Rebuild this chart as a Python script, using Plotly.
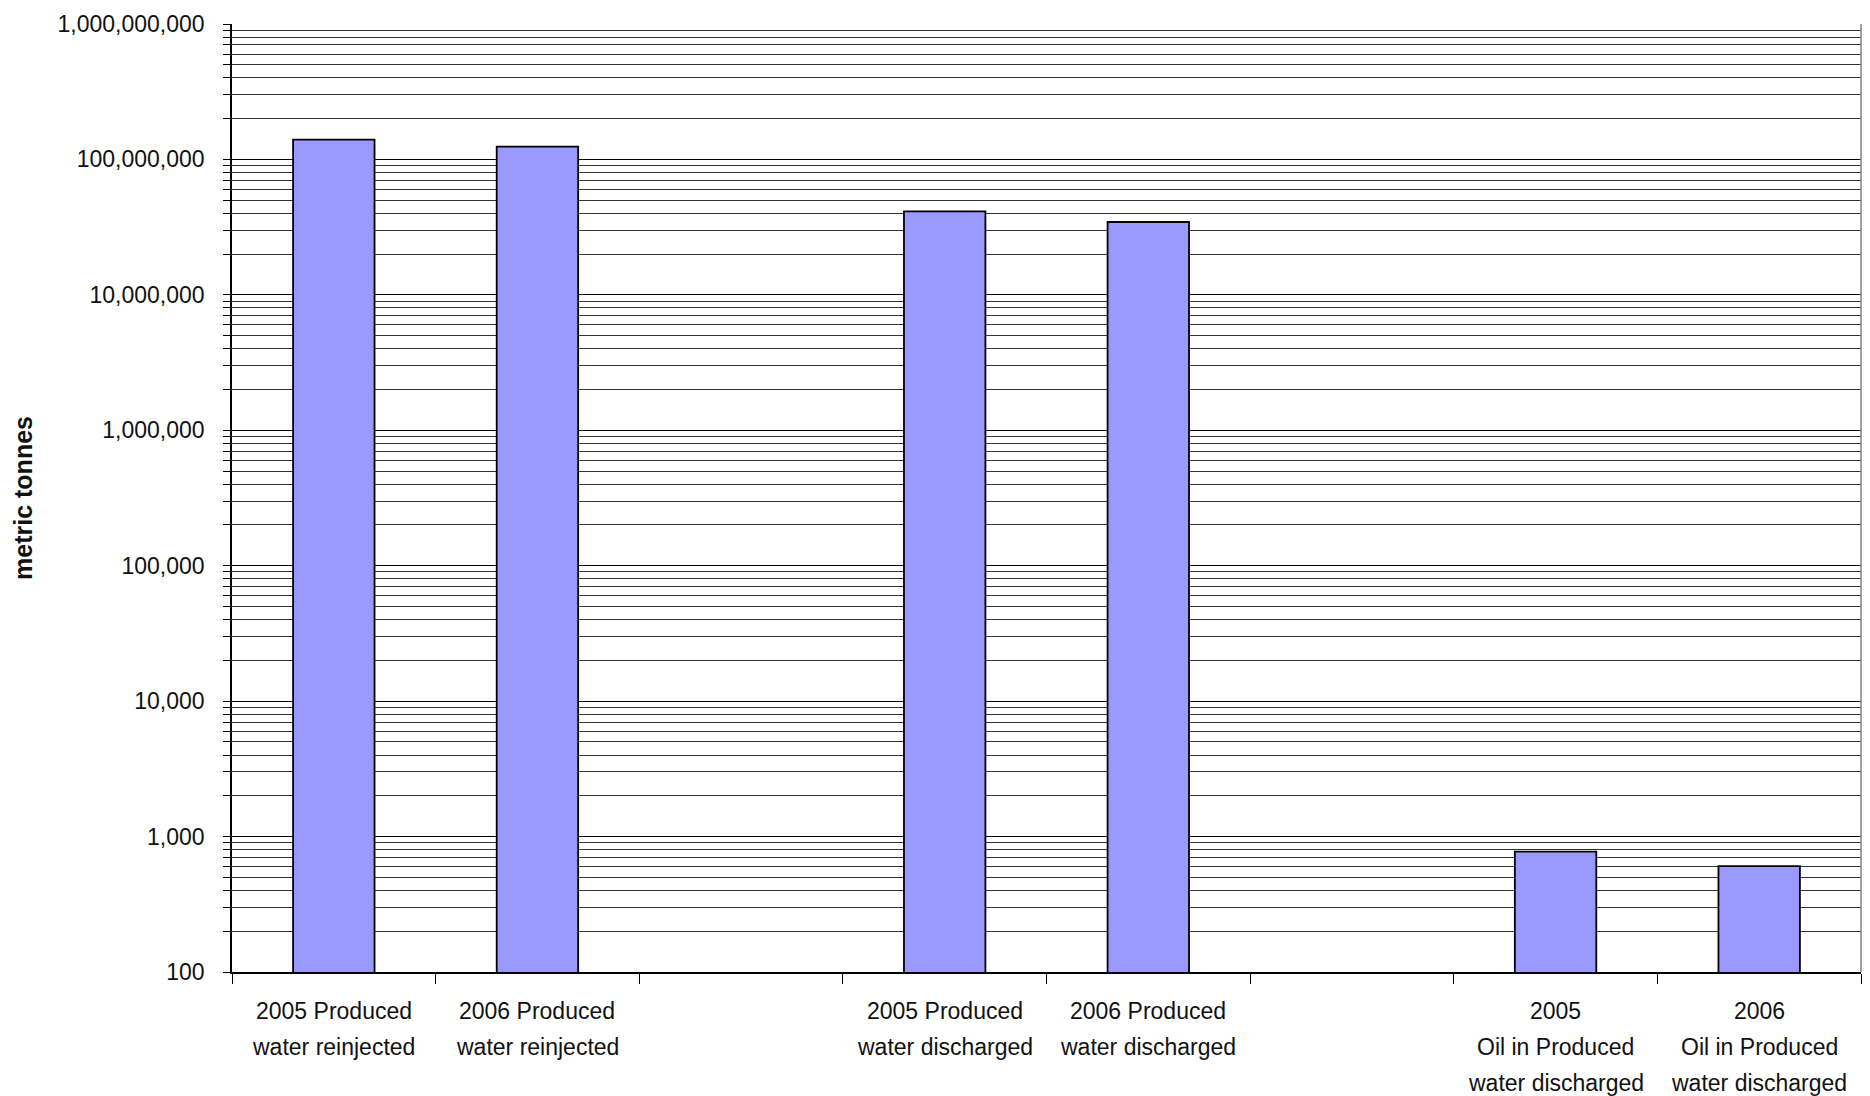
import plotly.graph_objects as go

# Produced water and oil-in-water quantities (metric tonnes), grouped with blank spacer slots
categories = [
    "2005 Produced water reinjected",
    "2006 Produced water reinjected",
    " ",
    "2005 Produced water discharged",
    "2006 Produced water discharged",
    "  ",
    "2005 Oil in Produced water discharged",
    "2006 Oil in Produced water discharged",
]
values = [140_000_000, 124_500_000, None, 41_300_000, 34_500_000, None, 775, 605]

# Multi-line category labels drawn under the axis
label_lines = [
    ["2005 Produced", "water reinjected"],
    ["2006 Produced", "water reinjected"],
    [],
    ["2005 Produced", "water discharged"],
    ["2006 Produced", "water discharged"],
    [],
    ["2005", "Oil in Produced", "water discharged"],
    ["2006", "Oil in Produced", "water discharged"],
]

y_tickvals = [100, 1_000, 10_000, 100_000, 1_000_000, 10_000_000, 100_000_000, 1_000_000_000]
y_ticktext = ["100", "1,000", "10,000", "100,000", "1,000,000", "10,000,000",
              "100,000,000", "1,000,000,000"]

FONT = "Liberation Sans, Arial, sans-serif"

fig = go.Figure(
    go.Bar(
        x=categories,
        y=values,
        marker=dict(color="#9999FF", line=dict(color="#000000", width=1.8)),
        showlegend=False,
    )
)

# Category labels, one annotation per text line for wider line spacing
line_offsets = [39, 75, 111]
for cat, lines in zip(categories, label_lines):
    for i, txt in enumerate(lines):
        fig.add_annotation(
            x=cat, xref="x", y=0, yref="paper",
            text=txt, showarrow=False,
            yanchor="middle", yshift=-line_offsets[i],
            font=dict(family=FONT, size=23, color="#111111"),
        )

# Right-hand frame edge
fig.add_shape(type="line", xref="paper", yref="paper", x0=1, x1=1, y0=0, y1=1,
              line=dict(color="#808080", width=1.5))

fig.update_layout(
    width=1870, height=1096,
    margin=dict(l=232, r=9, t=24, b=124, autoexpand=False),
    paper_bgcolor="white", plot_bgcolor="white",
    bargap=0.6,
    font=dict(family=FONT, size=23, color="#111111"),
    xaxis=dict(
        type="category",
        categoryorder="array", categoryarray=categories,
        showticklabels=False,
        ticks="outside", tickson="boundaries", ticklen=10, tickcolor="#000000",
        showline=True, linecolor="#000000", linewidth=1.5,
        showgrid=False, zeroline=False, automargin=False,
    ),
    yaxis=dict(
        type="log", range=[2, 9],
        tickvals=y_tickvals, ticktext=y_ticktext,
        ticks="outside", ticklen=7, tickcolor="#000000",
        ticklabelstandoff=14,
        tickfont=dict(family=FONT, size=23, color="#111111"),
        showline=True, linecolor="#000000", linewidth=1.5,
        showgrid=True, gridcolor="#000000", gridwidth=1,
        zeroline=False, automargin=False,
        minor=dict(dtick="D1", ticks="outside", ticklen=7, tickcolor="#000000",
                   showgrid=True, gridcolor="#333333", gridwidth=1),
        title=dict(text="<b>metric tonnes</b>", standoff=18,
                   font=dict(family=FONT, size=25, color="#111111")),
    ),
)

fig.write_html("out.html")
